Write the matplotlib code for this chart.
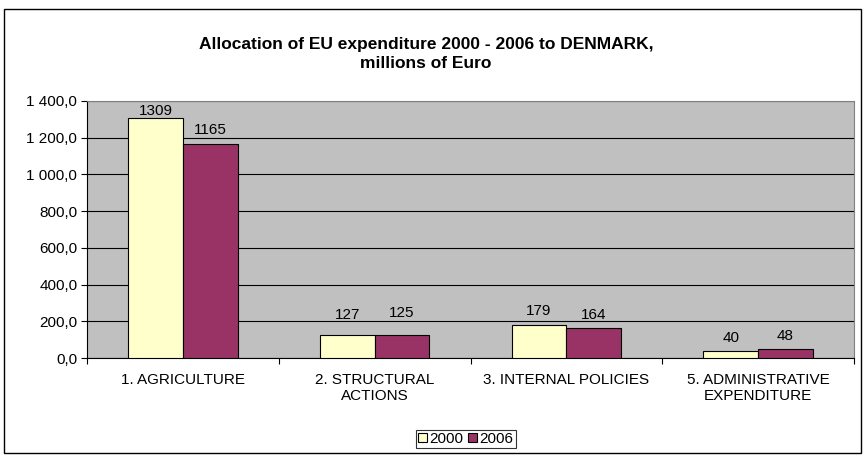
import matplotlib

matplotlib.use("Agg")
import matplotlib.pyplot as plt
import numpy as np
from matplotlib.patches import Rectangle
from matplotlib.ticker import FuncFormatter, MultipleLocator

categories = ["1. AGRICULTURE", "2. STRUCTURAL\nACTIONS", "3. INTERNAL POLICIES", "5. ADMINISTRATIVE\nEXPENDITURE"]
years = ["2000", "2006"]
values_2000 = [1309, 127, 179, 40]
values_2006 = [1165, 125, 164, 48]
colors = ["#FFFFCC", "#993366"]
# label gap above each bar in pixels (labels were hand-placed in the original)
label_gaps = [[3, 16, 10, 9], [10, 18, 9, 9]]

plt.rcParams["font.family"] = ["Liberation Sans", "DejaVu Sans"]
fs = 11

fig = plt.figure(figsize=(8.65, 4.57), dpi=100)
fig.patches.append(Rectangle((4 / 865, 1 - 453 / 457), 857 / 865, 444 / 457, transform=fig.transFigure,
                             fill=False, edgecolor="black", linewidth=1.0))
ax = fig.add_axes([87 / 865, 1 - 358 / 457, (854 - 87) / 865, (358 - 101) / 457])
ax.set_facecolor("#C0C0C0")

x = np.arange(len(categories))
w = 1 / 3.5
for i, (vals, col, lab) in enumerate(zip([values_2000, values_2006], colors, years)):
    pos = x + (i - 0.5) * w
    ax.bar(pos, vals, w, color=col, edgecolor="black", linewidth=0.8, label=lab, zorder=3)
    for px, v, g in zip(pos, vals, label_gaps[i]):
        ax.annotate(str(v), (px, v), xytext=(0, g), textcoords="offset pixels",
                    ha="center", va="baseline", fontsize=fs, annotation_clip=False)

ax.set_xlim(-0.5, len(categories) - 0.5)
ax.set_ylim(0, 1400)
ax.yaxis.set_major_locator(MultipleLocator(200))
ax.yaxis.set_major_formatter(FuncFormatter(lambda v, _: f"{v:,.1f}".replace(",", " ").replace(".", ",")))
ax.grid(axis="y", color="black", linewidth=0.8, zorder=1)

ax.set_xticks(np.arange(len(categories) + 1) - 0.5)
ax.set_xticklabels([])
ax.set_xticks(x, minor=True)
ax.set_xticklabels(categories, minor=True, fontsize=fs, linespacing=1.15)
ax.tick_params(axis="x", which="minor", length=0, pad=11)
ax.tick_params(axis="x", which="major", length=4, direction="out", width=0.8)
ax.tick_params(axis="y", length=4, direction="out", width=0.8, labelsize=fs, pad=3)

for side in ["top", "right"]:
    ax.spines[side].set_color("#808080")
for side in ["left", "bottom"]:
    ax.spines[side].set_color("black")

fig.text(426 / 865, 1 - 54 / 457, "Allocation of EU expenditure 2000 - 2006 to DENMARK,\nmillions of Euro",
         ha="center", va="center", fontsize=12.5, fontweight="bold", linespacing=1.3)

leg = fig.legend(loc="center", bbox_to_anchor=(466 / 865, 1 - 439 / 457), ncol=2, fontsize=fs,
                 frameon=True, fancybox=False, edgecolor="black", handlelength=0.6, handleheight=0.6,
                 handletextpad=0.15, columnspacing=0.3, borderpad=0.15)
leg.get_frame().set_linewidth(0.8)

fig.savefig("out.png", dpi=100)
